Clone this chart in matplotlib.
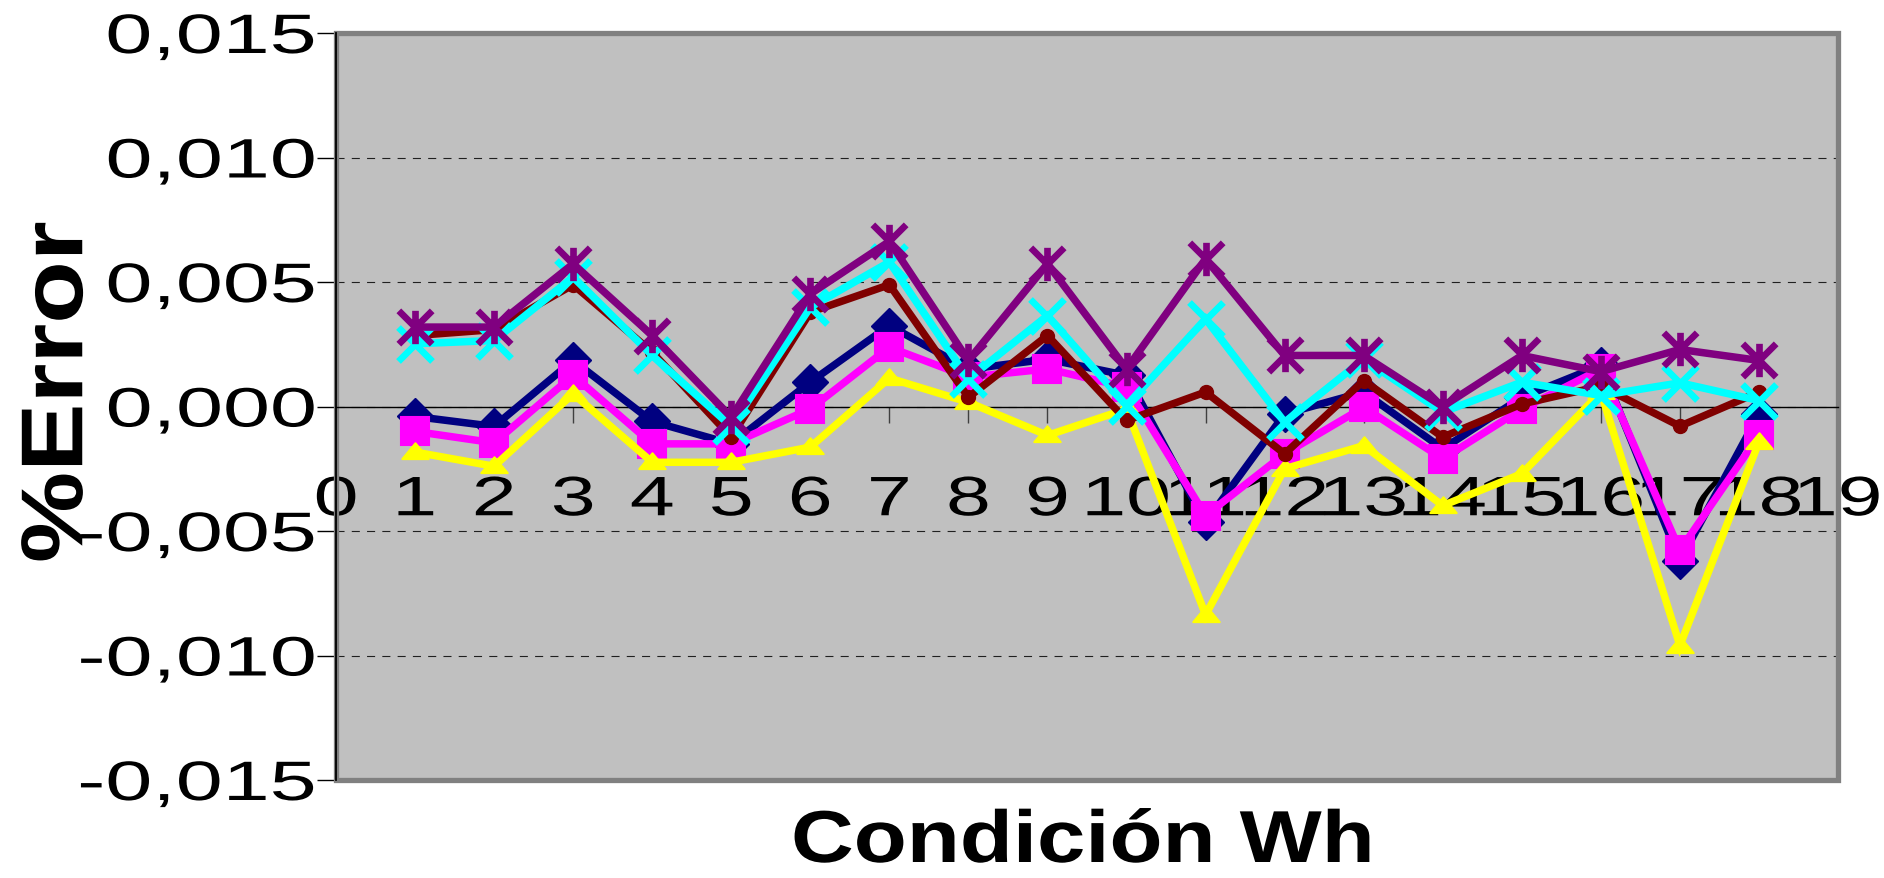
import matplotlib
matplotlib.use("Agg")
import matplotlib.pyplot as plt
from matplotlib.patheffects import AbstractPathEffect
from matplotlib.transforms import Affine2D
from matplotlib.patches import Rectangle
from matplotlib.path import Path
from matplotlib.ticker import FuncFormatter

# ---- data -------------------------------------------------------------
condicion = list(range(1, 19))
x_ticks = list(range(0, 20))
y_ticks = [-0.015, -0.010, -0.005, 0.000, 0.005, 0.010, 0.015]

serie_navy = [-0.0004, -0.0008, 0.00185, -0.0006, -0.0015, 0.00098, 0.00325, 0.0015, 0.0019,
              0.00125, -0.00465, -0.0003, 0.00058, -0.0017, 0.00037, 0.00165, -0.0062, -0.0003]
serie_magenta = [-0.0010, -0.00146, 0.00125, -0.0015, -0.0015, -0.0001, 0.00238, 0.00118, 0.00151,
                 0.00078, -0.00438, -0.0019, -0.00003, -0.0021, -0.0001, 0.0015, -0.00578, -0.00116]
serie_yellow = [-0.00183, -0.0024, 0.00051, -0.00224, -0.00224, -0.00163, 0.00114, 0.00017, -0.00116,
                -0.0001, -0.00837, -0.0025, -0.00157, -0.00398, -0.0027, 0.00058, -0.0096, -0.00143]
serie_maroon = [0.00285, 0.00309, 0.00489, 0.00218, -0.00123, 0.00379, 0.00489, 0.00037, 0.00285,
                -0.00056, 0.00058, -0.0019, 0.00104, -0.00123, 0.0001, 0.00082, -0.00079, 0.00058]
serie_cyan = [0.00252, 0.00265, 0.0052, 0.00205, -0.0008, 0.00399, 0.0058, 0.00111, 0.00365,
              0.00004, 0.00352, -0.00063, 0.0019, -0.00023, 0.00098, 0.00044, 0.00095, 0.00024]
serie_purple = [0.00319, 0.00319, 0.00573, 0.00285, -0.00043, 0.00452, 0.00663, 0.00185, 0.00573,
                0.00151, 0.00593, 0.00205, 0.00205, 0.0, 0.00205, 0.0014, 0.00229, 0.00185]


class Stretch(AbstractPathEffect):
    """Scale glyph outlines around an anchor of their ink box."""

    def __init__(self, sx=1.0, sy=1.0, anchor="center"):
        super().__init__()
        self.sx, self.sy, self.anchor = sx, sy, anchor

    def draw_path(self, renderer, gc, tpath, affine, rgbFace=None):
        ext = tpath.get_extents(affine)
        if self.anchor == "left":
            ax0 = ext.x0
        elif self.anchor == "right":
            ax0 = ext.x1
        else:
            ax0 = 0.5 * (ext.x0 + ext.x1)
        ay0 = 0.5 * (ext.y0 + ext.y1)
        t = affine + Affine2D().translate(-ax0, -ay0).scale(self.sx, self.sy).translate(ax0, ay0)
        renderer.draw_path(gc, tpath, t, rgbFace)


plt.rcParams["font.family"] = ["Liberation Sans", "DejaVu Sans"]
plt.rcParams["lines.scale_dashes"] = False

W, H = 1884, 879
fig = plt.figure(figsize=(W / 100, H / 100), dpi=100)
fig.patch.set_facecolor("white")
left, right, top, bottom = 336, 1838, 34, 781
ax = fig.add_axes([left / W, 1 - bottom / H, (right - left) / W, (bottom - top) / H])
ax.set_facecolor("#C0C0C0")

ax.set_xlim(0, 19)
ax.set_ylim(-0.015, 0.015)

# frame of the plot area
ax.add_patch(Rectangle((0, 0), 1, 1, transform=ax.transAxes, fill=False,
                       edgecolor="#808080", lw=3.8, zorder=2.4, clip_on=False))
for s in ("top", "right"):
    ax.spines[s].set_visible(False)
ax.spines["left"].set_color("black")
ax.spines["left"].set_linewidth(1.3)
ax.spines["left"].set_zorder(2.45)
ax.spines["bottom"].set_position(("data", 0))
ax.spines["bottom"].set_color("black")
ax.spines["bottom"].set_linewidth(1.0)

# grid
ax.set_yticks(y_ticks)
ax.set_xticks(x_ticks)
ax.yaxis.grid(True, color="#202020", linewidth=0.8, linestyle=(0, (5.8, 5.2)))
ax.set_axisbelow(True)

ax.yaxis.set_major_formatter(FuncFormatter(
    lambda v, p: ("%.3f" % (round(v, 3) + 0.0)).replace(".", ",")))
ax.tick_params(axis="y", direction="out", length=13.5, width=1.0, color="black",
               pad=1.5, labelsize=40)
ax.tick_params(axis="x", direction="out", length=11.5, width=1.0, color="#404040",
               pad=38, labelsize=40)

for lbl in ax.get_yticklabels():
    lbl.set_path_effects([Stretch(1.52, 1.0, "right")])
for lbl in ax.get_xticklabels():
    lbl.set_path_effects([Stretch(1.45, 1.0, "center")])

# asterisk marker: an X crossed by a vertical bar
ast = Path([(0, -1), (0, 1), (-1, -1), (1, 1), (-1, 1), (1, -1)],
           [Path.MOVETO, Path.LINETO, Path.MOVETO, Path.LINETO, Path.MOVETO, Path.LINETO])
# flattened triangle
tri = Path([(-1, -0.5), (1, -0.5), (0, 0.7), (-1, -0.5)],
           [Path.MOVETO, Path.LINETO, Path.LINETO, Path.CLOSEPOLY])

lw = 5.4
series = [
    (serie_navy, "#000080", "D", 18, 1.0),
    (serie_magenta, "#FF00FF", "s", 20.5, 1.5),
    (serie_yellow, "#FFFF00", tri, 19, 1.5),
    (serie_maroon, "#800000", "o", 10, 1.0),
    (serie_cyan, "#00FFFF", "x", 24, 4.8),
    (serie_purple, "#800080", ast, 24, 4.8),
]
for i, (vals, col, mk, ms, mew) in enumerate(series):
    ax.plot(condicion, vals, color=col, lw=lw, marker=mk, markersize=ms,
            markerfacecolor=col, markeredgecolor=col, markeredgewidth=mew,
            solid_joinstyle="miter", zorder=3 + i)

# axis titles
fig.text(1083 / W, 1 - 863 / H, "Condición Wh", ha="center", va="baseline",
         fontsize=53, fontweight="bold",
         path_effects=[Stretch(1.18, 1.0, "center")])
fig.text(60 / W, 1 - 393 / H, "%Error", ha="center", va="center", rotation=90,
         fontsize=68, fontweight="bold",
         path_effects=[Stretch(0.93, 1.085, "center")])

fig.savefig("out.png", dpi=100, facecolor="white")
